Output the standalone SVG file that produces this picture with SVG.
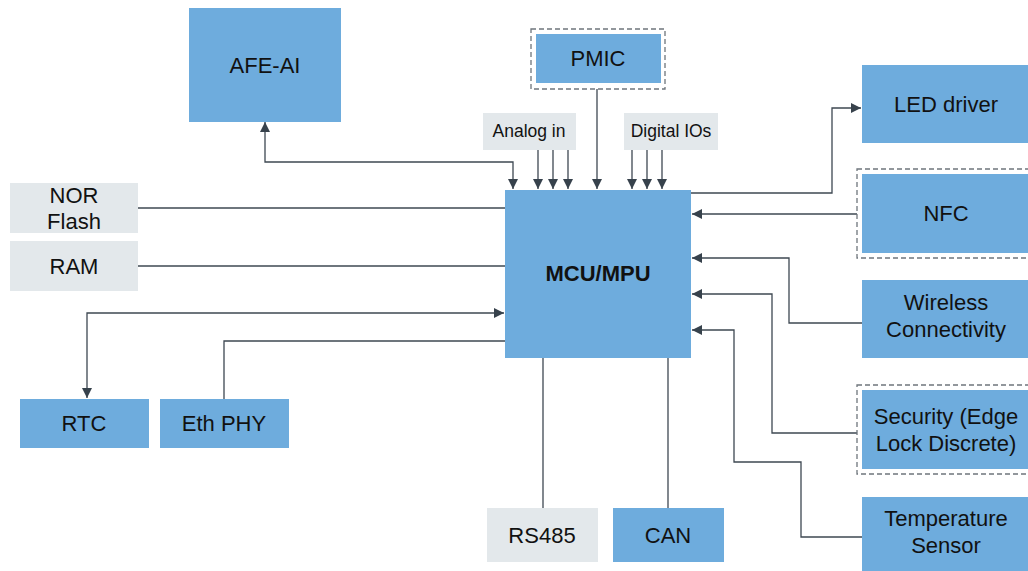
<svg xmlns="http://www.w3.org/2000/svg" width="1028" height="571" viewBox="0 0 1028 571">
<style>
.b{fill:#6eacdd}
.g{fill:#e3e8eb}
.d{fill:none;stroke:#6f767c;stroke-width:1.3;stroke-dasharray:5,3}
.t{font-family:"Liberation Sans",Arial,sans-serif;font-size:22px;fill:#111;text-anchor:middle}
.s{font-family:"Liberation Sans",Arial,sans-serif;font-size:17.5px;fill:#111;text-anchor:middle}
.c{fill:none;stroke:#3e4852;stroke-width:1.3}
</style>
<defs>
<marker id="a" viewBox="0 0 10 10" refX="10" refY="5" markerWidth="10" markerHeight="10" markerUnits="userSpaceOnUse" orient="auto-start-reverse">
<path d="M0,0 L10,5 L0,10 z" fill="#37424c"/>
</marker>
</defs>
<rect width="1028" height="571" fill="#fff"/>
<g id="connectors">
<path class="c" d="M265,122 V162 H513 V189" marker-start="url(#a)" marker-end="url(#a)"/>
<path class="c" d="M538,150 V189" marker-end="url(#a)"/>
<path class="c" d="M553,150 V189" marker-end="url(#a)"/>
<path class="c" d="M568,150 V189" marker-end="url(#a)"/>
<path class="c" d="M597,89 V189" marker-end="url(#a)"/>
<path class="c" d="M632,150 V189" marker-end="url(#a)"/>
<path class="c" d="M647,150 V189" marker-end="url(#a)"/>
<path class="c" d="M662,150 V189" marker-end="url(#a)"/>
<path class="c" d="M691,193 H832 V108 H861" marker-end="url(#a)"/>
<path class="c" d="M857,214 H692" marker-end="url(#a)"/>
<path class="c" d="M862,323 H789 V258 H692" marker-end="url(#a)"/>
<path class="c" d="M857,433 H772 V294 H692" marker-end="url(#a)"/>
<path class="c" d="M862,537 H801 V462 H734 V330 H692" marker-end="url(#a)"/>
<path class="c" d="M138,208 H505"/>
<path class="c" d="M138,266 H505"/>
<path class="c" d="M504,313 H87 V398" marker-start="url(#a)" marker-end="url(#a)"/>
<path class="c" d="M224,399 V341 H505"/>
<path class="c" d="M543,358 V508"/>
<path class="c" d="M668,358 V508"/>
</g>
<g id="mcu"><rect class="b" x="505" y="190" width="186" height="168"/><text class="t" x="598" y="281" font-weight="bold">MCU/MPU</text></g>
<g id="afe"><rect class="b" x="189" y="8" width="152" height="114"/><text class="t" x="265" y="73">AFE-AI</text></g>
<g id="pmic"><rect class="d" x="531" y="29" width="134" height="60"/><rect class="b" x="536" y="34" width="125" height="49"/><text class="t" x="598" y="66">PMIC</text></g>
<g id="analog"><rect class="g" x="483" y="113" width="93" height="37"/><text class="s" x="529" y="137">Analog in</text></g>
<g id="digital"><rect class="g" x="624" y="113" width="94" height="37"/><text class="s" x="671" y="137">Digital IOs</text></g>
<g id="led"><rect class="b" x="862" y="65" width="170" height="78"/><text class="t" x="946" y="112">LED driver</text></g>
<g id="nfc"><rect class="d" x="857" y="169" width="180" height="89"/><rect class="b" x="862" y="174" width="170" height="79"/><text class="t" x="946" y="221">NFC</text></g>
<g id="wireless"><rect class="b" x="862" y="280" width="170" height="78"/><text class="t" x="946" y="310">Wireless</text><text class="t" x="946" y="337">Connectivity</text></g>
<g id="security"><rect class="d" x="857" y="385" width="180" height="89"/><rect class="b" x="862" y="390" width="170" height="79"/><text class="t" x="946" y="424">Security (Edge</text><text class="t" x="946" y="451">Lock Discrete)</text></g>
<g id="temp"><rect class="b" x="862" y="497" width="170" height="74"/><text class="t" x="946" y="526">Temperature</text><text class="t" x="946" y="553">Sensor</text></g>
<g id="nor"><rect class="g" x="10" y="183" width="128" height="50"/><text class="t" x="74" y="203">NOR</text><text class="t" x="74" y="229">Flash</text></g>
<g id="ram"><rect class="g" x="10" y="241" width="128" height="50"/><text class="t" x="74" y="274">RAM</text></g>
<g id="rtc"><rect class="b" x="20" y="399" width="129" height="49"/><text class="t" x="84" y="431">RTC</text></g>
<g id="eth"><rect class="b" x="160" y="399" width="129" height="49"/><text class="t" x="224" y="431">Eth PHY</text></g>
<g id="rs485"><rect class="g" x="487" y="508" width="111" height="54"/><text class="t" x="542" y="543">RS485</text></g>
<g id="can"><rect class="b" x="613" y="508" width="111" height="54"/><text class="t" x="668" y="543">CAN</text></g>
</svg>
